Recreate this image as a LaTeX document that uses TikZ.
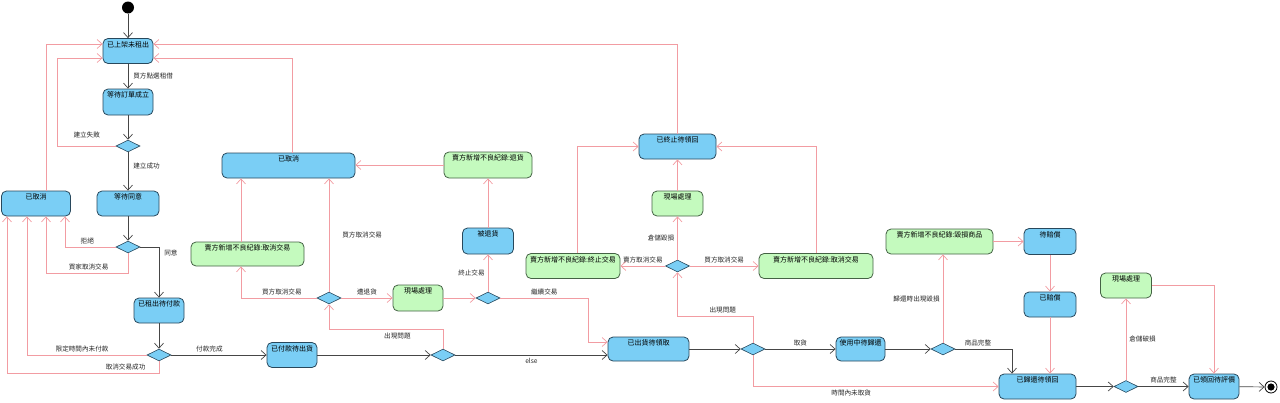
\documentclass[tikz,border=0pt]{standalone}
\usepackage{fontspec}
\newfontfamily\cjk{Noto Sans CJK TC}
\usetikzlibrary{arrows.meta,shapes.geometric}
\definecolor{actfill}{RGB}{122,206,245}
\definecolor{actline}{RGB}{40,72,92}
\definecolor{recfill}{RGB}{196,250,190}
\definecolor{recline}{RGB}{68,98,68}
\definecolor{flowgray}{RGB}{70,70,70}
\definecolor{altpink}{RGB}{242,156,162}

\begin{document}
\begin{tikzpicture}
[x=1pt, y=-1pt,
every node/.style={font=\cjk\fontsize{7}{8}\selectfont},
act/.style={rectangle, rounded corners=5pt, draw=actline, fill=actfill, line width=0.8pt,
inner xsep=2pt, inner ysep=2.5pt, text height=6pt, text depth=14pt, minimum width=50pt},
rec/.style={act, draw=recline, fill=recfill},
choice/.style={diamond, draw=actline, fill=actfill, line width=0.6pt,
minimum width=24pt, minimum height=12pt, inner sep=0pt},
flow/.style={draw=flowgray, line width=0.7pt, -{Straight Barb[length=5pt,width=9pt]}},
alt/.style={draw=altpink, line width=0.7pt, -{Straight Barb[length=5pt,width=9pt]}},
tag/.style={inner sep=3pt, text=black!85, font=\cjk\fontsize{6.6}{8}\selectfont}]
\useasboundingbox (0,0) rectangle (1280,402);
\node[circle, fill=black, minimum size=12pt, inner sep=0pt] (start) at (128,7.5) {};
\node[act] (listed) at (128,51) {已上架未租出};
\node[act, text depth=15pt] (waitorder) at (128,102) {等待訂單成立};
\node[choice] (dA) at (128,146) {};
\node[act, minimum width=62pt] (waitagree) at (128,203.5) {等待同意};
\node[act, minimum width=69pt] (cancelA) at (36,203.5) {已取消};
\node[choice] (dB) at (128,247) {};
\node[act] (rentpay) at (159,310.5) {已租出待付款};
\node[choice] (dC) at (159,355) {};
\node[act] (paidship) at (292,355) {已付款待出貨};
\node[choice] (dD) at (443,355) {};
\node[choice] (dE) at (329,298) {};
\node[rec, minimum width=113pt, text depth=13pt] (badcancelA) at (247.5,254) {賣方新增不良紀錄:取消交易};
\node[act, minimum width=133pt] (cancelB) at (288.5,165.5) {已取消};
\node[rec, minimum width=88pt, text depth=15pt] (badreturn) at (488,165) {賣方新增不良紀錄:退貨};
\node[act, minimum width=51pt, text depth=15pt] (returned) at (488,241) {被退貨};
\node[rec, text depth=15pt] (handleA) at (418,298) {現場處理};
\node[choice] (dF) at (488,298) {};
\node[act, minimum width=81pt, text depth=13pt] (shipped) at (648.5,349) {已出貨待領取};
\node[rec, minimum width=94pt] (badstop) at (573,266) {賣方新增不良紀錄:終止交易};
\node[act, minimum width=77pt] (stopped) at (677.5,146.5) {已終止待領回};
\node[rec, minimum width=51pt] (handleB) at (677.5,203.5) {現場處理};
\node[choice] (dG) at (677.5,266) {};
\node[rec, minimum width=114pt] (badcancelB) at (816,266) {賣方新增不良紀錄:取消交易};
\node[choice] (dH) at (753,349) {};
\node[act, minimum width=49pt, text depth=13pt] (inuse) at (860.5,349) {使用中待歸還};
\node[choice] (dI) at (943,349) {};
\node[rec, minimum width=107pt] (baddamage) at (939.5,241.5) {賣方新增不良紀錄:毀損商品};
\node[act, minimum width=52pt, text depth=15pt] (compwait) at (1050,241.5) {待賠償};
\node[act, minimum width=52pt] (compdone) at (1050,304.5) {已賠償};
\node[act, minimum width=77pt] (backwait) at (1037.5,386.5) {已歸還待領回};
\node[choice] (dJ) at (1126,386.5) {};
\node[rec, minimum width=51pt] (handleC) at (1126,285.5) {現場處理};
\node[act] (backeval) at (1214,386.5) {已領回待評價};
\node[circle, draw, line width=0.8pt, minimum size=12pt, inner sep=0pt,
path picture={\fill (path picture bounding box.center) circle (3.6pt);}] (final) at (1271,387) {};

\begin{scope}[every node/.style={tag}]
\draw[flow] (start) -- (listed);
\draw[flow] (listed) -- node[right, xshift=2pt]{買方點選租借} (waitorder);
\draw[flow] (waitorder) -- (dA);
\draw[flow] (dA) -- node[right, xshift=2pt, pos=0.35]{建立成功} (waitagree);
\draw[flow] (waitagree) -- (dB);
\draw[flow] (dB.east) -| node[right, xshift=2pt, pos=0.56]{同意} (rentpay.north);
\draw[flow] (rentpay) -- (dC);
\draw[flow] (dC) -- node[above, pos=0.4]{付款完成} (paidship);
\draw[flow] (paidship) -- (dD);
\draw[flow] (dD) -- node[below]{else} (dD -| shipped.west);
\draw[flow] (shipped) -- (dH);
\draw[flow] (dH) -- node[above]{取貨} (inuse);
\draw[flow] (inuse) -- (dI);
\draw[flow] (dI.east) -| node[above, pos=0.2]{商品完整} ([xshift=-25.5pt]backwait.north);
\draw[flow] (backwait) -- (dJ);
\draw[flow] (dJ) -- node[above]{商品完整} (backeval);
\draw[flow] (backeval) -- (final);

\draw[alt] (dA.west) -- ++(-58,0) node[above, midway, yshift=5pt]{建立失敗} |- ([yshift=-7pt]listed.west);
\draw[alt] ([xshift=10pt]cancelA.north) |- ([yshift=7pt]listed.west);
\draw[alt] ([xshift=3.5pt]cancelB.north) |- ([yshift=-7pt]listed.east);
\draw[alt] (stopped.north) |- ([yshift=7pt]listed.east);
\draw[alt] (dB.west) -| node[above, pos=0.28]{拒絕} ([xshift=29pt]cancelA.south);
\draw[alt] (dB.south) -- ++(0,20) -| node[above, pos=0.24]{買家取消交易} ([xshift=10pt]cancelA.south);
\draw[alt] (dC.west) -| node[above, pos=0.27]{限定時間內未付款} ([xshift=-9pt]cancelA.south);
\draw[alt] (dC.south) -- ++(0,12) -| node[above, pos=0.11]{取消交易成功} ([xshift=-29pt]cancelA.south);
\draw[alt] ([xshift=-6.5pt]badcancelA.north) -- ([xshift=-47.5pt]cancelB.south);
\draw[alt] (dE.west) -| node[above, pos=0.23]{買方取消交易} ([xshift=-6.5pt]badcancelA.south);
\draw[alt] (dE.north) -- node[right, xshift=10pt]{買方取消交易} (dE.north |- cancelB.south);
\draw[alt] (dE) -- node[above]{遭退貨} (handleA);
\draw[alt] (handleA) -- (dF);
\draw[alt] (dF) -- node[left]{終止交易} (returned);
\draw[alt] (returned) -- (badreturn);
\draw[alt] (badreturn.west) -- (badreturn.west -| cancelB.east);
\draw[alt] (dF.east) -- ++(88,0) node[above, midway]{繼續交易} |- ([yshift=7pt]shipped.west);
\draw[alt] (dD.north) -- ++(0,-19) -| node[below, pos=0.2]{出現問題} (dE.south);
\draw[alt] ([xshift=4pt]badstop.north) |- (stopped.west);
\draw[alt] (handleB) -- (stopped);
\draw[alt] (dG) -- node[left]{倉儲毀損} (handleB);
\draw[alt] (dG) -- node[above]{賣方取消交易} (badstop);
\draw[alt] (dG) -- node[above]{買方取消交易} (badcancelB);
\draw[alt] (badcancelB.north) |- (stopped.east);
\draw[alt] (dH.north) -- ++(0,-26) -| node[above, pos=0.2]{出現問題} (dG.south);
\draw[alt] (dH.south) |- node[below, pos=0.7]{時間內未取貨} (backwait.west);
\draw[alt] (dI.north) -- node[left]{歸還時出現毀損} (dI.north |- baddamage.south);
\draw[alt] (baddamage) -- (compwait);
\draw[alt] (compwait) -- (compdone);
\draw[alt] (compdone.south) -- (compdone.south |- backwait.north);
\draw[alt] (dJ) -- node[right]{倉儲破損} (handleC);
\draw[alt] (handleC.east) -| (backeval.north);
\end{scope}
\end{tikzpicture}
\end{document}
